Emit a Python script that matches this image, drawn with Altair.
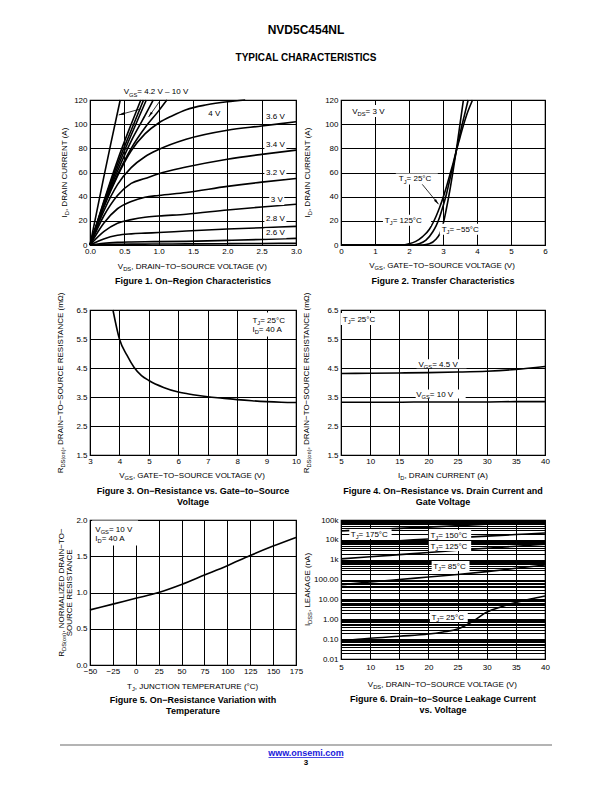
import math
import altair as alt
import pandas as pd

FONT = "Liberation Sans"

# ------------------------------------------------------------------ data
# Figure 1 - On-region characteristics: ID (A) vs VDS (V), one curve per VGS
f1_vds = [0, 0.2, 0.4, 0.6, 0.8, 1.0, 1.4, 2.0, 2.5, 3.0]
f1_id_3v6 = [0, 28, 50, 64, 73, 79, 87.5, 95, 98.5, 102]
f1_id_3v4 = [0, 24, 41, 51, 55, 59, 64.5, 71, 75, 78.5]
f1_id_3v2 = [0, 18, 30, 36, 39.5, 41, 43.5, 48.5, 52, 55]
f1_id_3v0 = [0, 11, 18, 21, 23, 24, 25.5, 29, 31.5, 33.7]
f1_id_2v8 = [0, 5, 8, 9.2, 9.8, 10.3, 11.6, 13.2, 14.3, 15.4]
f1_id_2v6 = [0, 1.5, 2.2, 2.5, 2.7, 2.8, 3.0, 3.8, 4.6, 5.5]
f1_id_2v4 = [0, 0.4, 0.6, 0.7, 0.75, 0.8, 0.9, 1.1, 1.3, 1.5]
f1_vds_4v0 = [0, 0.2, 0.4, 0.6, 0.8, 1.0, 1.2, 1.4, 1.7, 2.0, 2.26]
f1_id_4v0 = [0, 31, 57, 78, 92, 101, 107, 112, 116, 118.5, 120]
f1_vds_4v2 = [0, 0.2, 0.4, 0.6, 0.8, 1.0, 1.12]
f1_id_4v2 = [0, 32, 58, 80, 97, 111, 120]
f1_vds_4v5 = [0, 0.2, 0.4, 0.6, 0.8, 0.92]
f1_id_4v5 = [0, 33, 61, 86, 107, 120]
f1_vds_5v = [0, 0.2, 0.4, 0.6, 0.82]
f1_id_5v = [0, 34, 64, 91, 120]
f1_vds_6v = [0, 0.2, 0.4, 0.6, 0.78]
f1_id_6v = [0, 35, 67, 95, 120]
f1_vds_8v = [0, 0.2, 0.4, 0.6, 0.74]
f1_id_8v = [0, 36, 70, 100, 120]
f1_vds_10v = [0, 0.1, 0.2, 0.3, 0.44]
f1_id_10v = [0, 28, 56, 83, 120]

# Figure 2 - Transfer characteristics: ID (A) vs VGS (V)
f2_vgs_m55 = [0, 2.4, 2.6, 2.8, 2.9, 3.0, 3.1, 3.2, 3.3, 3.4, 3.5, 3.6]
f2_id_m55 = [0, 0, 1, 5, 9, 17, 30, 45, 62, 80, 100, 120]
f2_vgs_25 = [0, 2.1, 2.3, 2.5, 2.7, 2.8, 2.9, 3.0, 3.1, 3.2, 3.3, 3.4, 3.5, 3.6, 3.74]
f2_id_25 = [0, 0, 1, 4, 11, 16, 23, 32, 42, 54, 66, 79, 92, 104, 120]
f2_vgs_125 = [0, 1.8, 2.0, 2.2, 2.4, 2.6, 2.7, 2.8, 2.9, 3.0, 3.1, 3.2, 3.3, 3.4, 3.5, 3.6, 3.7, 3.87]
f2_id_125 = [0, 0, 1, 3, 7, 13, 18, 24, 31, 39, 48, 58, 68, 79, 89, 99, 108, 120]

# Figure 3 - RDS(on) (mOhm) vs VGS (V)
f3_vgs = [3.78, 4.0, 4.25, 4.5, 4.75, 5.0, 5.5, 6.0, 6.5, 7.0, 7.5, 8.0, 8.5, 9.0, 9.5, 10.0]
f3_rds = [6.5, 5.5, 4.95, 4.52, 4.24, 4.07, 3.83, 3.67, 3.58, 3.51, 3.46, 3.41, 3.37, 3.34, 3.32, 3.31]

# Figure 4 - RDS(on) (mOhm) vs ID (A)
f4_id = [5, 10, 15, 20, 25, 30, 35, 40]
f4_rds_4v5 = [4.31, 4.32, 4.33, 4.34, 4.36, 4.39, 4.45, 4.55]
f4_rds_10v = [3.32, 3.32, 3.32, 3.33, 3.33, 3.33, 3.34, 3.34]

# Figure 5 - normalized RDS(on) vs TJ (degC)
f5_tj = [-50, -25, 0, 25, 50, 75, 100, 125, 150, 175]
f5_rn = [0.76, 0.84, 0.92, 1.0, 1.11, 1.24, 1.37, 1.51, 1.64, 1.76]

# Figure 6 - IDSS leakage (nA) vs VDS (V)
f6_vds = [5, 10, 15, 20, 25, 30, 35, 40]
f6_i_175 = [28000, 33000, 38000, 44000, 52000, 62000, 75000, 90000]
f6_i_150 = [6000, 7500, 9000, 11000, 13000, 15500, 18500, 22000]
f6_i_125 = [1100, 1400, 1800, 2300, 3000, 3800, 4800, 6000]
f6_i_85 = [55, 75, 100, 135, 180, 250, 370, 540]
f6_vds_25 = [5, 10, 15, 20, 22.5, 25, 27.5, 30, 32.5, 35, 37.5, 40]
f6_i_25 = [0.08, 0.11, 0.14, 0.18, 0.23, 0.32, 0.75, 2.3, 4.3, 7, 10.5, 15]

# tick values
f1_xt = [0, 0.5, 1.0, 1.5, 2.0, 2.5, 3.0]
f1_yt = [0, 20, 40, 60, 80, 100, 120]
f2_xt = [0, 1, 2, 3, 4, 5, 6]
f3_xt = [3, 4, 5, 6, 7, 8, 9, 10]
r_yt = [1.5, 2.5, 3.5, 4.5, 5.5, 6.5]
f4_xt = [5, 10, 15, 20, 25, 30, 35, 40]
f5_xt = [-50, -25, 0, 25, 50, 75, 100, 125, 150, 175]
f5_yt = [0.0, 0.5, 1.0, 1.5, 2.0]
f6_dec = [0.01, 0.1, 1, 10, 100, 1000, 10000, 100000]
f6_grid = [m * d for d in f6_dec[:-1] for m in range(1, 10)] + [100000]

# ------------------------------------------------------------------ helpers
AW = {' ': 278, '(': 333, ')': 333, ',': 278, '-': 333, '.': 278, '=': 584, '°': 400,
      '−': 584, '–': 556, 'Ω': 768,
      'A': 667, 'B': 667, 'C': 722, 'D': 722, 'E': 667, 'F': 611, 'G': 778, 'H': 722,
      'I': 278, 'J': 500, 'K': 667, 'L': 556, 'M': 833, 'N': 722, 'O': 778, 'P': 667,
      'Q': 778, 'R': 722, 'S': 667, 'T': 611, 'U': 722, 'V': 667, 'W': 944, 'X': 667,
      'Y': 667, 'Z': 611, 'a': 556, 'b': 556, 'c': 500, 'd': 556, 'e': 556, 'f': 278,
      'g': 556, 'h': 556, 'i': 222, 'j': 222, 'k': 500, 'l': 222, 'm': 833, 'n': 556,
      'o': 556, 'p': 556, 'q': 556, 'r': 333, 's': 500, 't': 278, 'u': 556, 'v': 500,
      'w': 722, 'x': 500, 'y': 500, 'z': 500}


def tw(s, size):
    return sum(AW.get(c, 556) for c in s) * size / 1000.0


ONE = pd.DataFrame({"k": [0]})
SUB = 0.72


def axis(values, fmt=None, expr=None, pad=2):
    kw = dict(values=values, title=None, grid=True, gridColor="black", gridWidth=1,
              gridOpacity=1, ticks=False, domain=False, labelFont=FONT, labelFontSize=8,
              labelColor="black", labelPadding=pad, labelOverlap=False, labelFlush=False)
    if fmt:
        kw["format"] = fmt
    if expr:
        kw["labelExpr"] = expr
    return alt.Axis(**kw)


class Panel:
    def __init__(self, w, h, xdom, ydom, xax, yax, ylog=False):
        self.w, self.h = w, h
        self.xdom, self.ydom, self.ylog = xdom, ydom, ylog
        self.xax, self.yax = xax, yax
        self.sx = alt.Scale(domain=xdom, nice=False, zero=False)
        if ylog:
            self.sy = alt.Scale(type="log", domain=ydom, nice=False)
        else:
            self.sy = alt.Scale(domain=ydom, nice=False, zero=False)
        self.layers = []

    def enc(self):
        return dict(x=alt.X("x:Q", scale=self.sx, axis=self.xax),
                    y=alt.Y("y:Q", scale=self.sy, axis=self.yax))

    def pxy(self, x, y):
        px = (x - self.xdom[0]) / (self.xdom[1] - self.xdom[0]) * self.w
        if self.ylog:
            f = (math.log10(y) - math.log10(self.ydom[0])) / (math.log10(self.ydom[1]) - math.log10(self.ydom[0]))
        else:
            f = (y - self.ydom[0]) / (self.ydom[1] - self.ydom[0])
        return px, self.h * (1 - f)

    def add(self, *charts):
        for c in charts:
            if isinstance(c, list):
                self.layers.extend(c)
            else:
                self.layers.append(c)

    def chart(self):
        return alt.layer(*self.layers).properties(width=self.w, height=self.h)


def curves(panel, series):
    rows = []
    for name, xs, ys in series:
        for a, b in zip(xs, ys):
            rows.append({"s": name, "x": a, "y": b})
    df = pd.DataFrame(rows)
    return alt.Chart(df).mark_line(color="black", strokeWidth=1.6, interpolate="monotone").encode(
        detail="s:N", **panel.enc())


def rich(parts, size=8, align="left", angle=0, px=None, data=None, panel=None):
    out = []
    sizes = [size * SUB if sub else size for _, sub in parts]
    total = sum(tw(t, s) for (t, _), s in zip(parts, sizes))
    off = 0.0 if align == "left" else -total / 2.0
    base = 0.35 * size
    for (t, sub), s in zip(parts, sizes):
        dy = base + (0.28 * size if sub else 0.0)
        mk = dict(text=t, font=FONT, fontSize=s, align="left", baseline="alphabetic",
                  dx=round(off, 2), dy=round(dy, 2), color="black")
        if angle:
            mk["angle"] = angle
        if px is not None:
            ch = alt.Chart(ONE).mark_text(**mk).encode(x=alt.value(px[0]), y=alt.value(px[1]))
        else:
            ch = alt.Chart(pd.DataFrame({"x": [data[0]], "y": [data[1]]})).mark_text(**mk).encode(**panel.enc())
        out.append(ch)
        off += tw(t, s)
    return out


def box(panel, cx, cy, w, h):
    r = h / w
    path = f"M-1,{-r:.4f}L1,{-r:.4f}L1,{r:.4f}L-1,{r:.4f}Z"
    return alt.Chart(pd.DataFrame({"x": [cx], "y": [cy]})).mark_point(
        shape=path, size=w * w, filled=True, color="white", opacity=1, strokeWidth=0
    ).encode(**panel.enc())


def arrow(panel, x1, y1, x2, y2):
    df = pd.DataFrame({"x": [x1], "y": [y1], "x2": [x2], "y2": [y2]})
    rule = alt.Chart(df).mark_rule(color="black", strokeWidth=0.8).encode(
        x2="x2:Q", y2="y2:Q", **panel.enc())
    p1, p2 = panel.pxy(x1, y1), panel.pxy(x2, y2)
    ang = math.degrees(math.atan2(p2[0] - p1[0], -(p2[1] - p1[1]))) % 360
    head = alt.Chart(pd.DataFrame({"x": [x2], "y": [y2]})).mark_point(
        shape="M0,0L-0.42,1.9L0.42,1.9Z", size=36, angle=round(ang, 1), filled=True,
        color="black", opacity=1, strokeWidth=0).encode(**panel.enc())
    return [rule, head]


def plain(text, x, y, size=8, weight="normal", align="center", color="black", panel=None, data=False):
    mk = dict(text=text, font=FONT, fontSize=size, fontWeight=weight, align=align,
              baseline="middle", color=color)
    if data:
        return alt.Chart(pd.DataFrame({"x": [x], "y": [y]})).mark_text(**mk).encode(**panel.enc())
    return alt.Chart(ONE).mark_text(**mk).encode(x=alt.value(x), y=alt.value(y))


def caption(panel, lines, y0):
    return [plain(t, panel.w / 2, panel.h + y0 + 11 * i, size=9, weight="bold") for i, t in enumerate(lines)]


def ytitle(panel, parts, xoff):
    return rich(parts, align="center", angle=270, px=(xoff, panel.h / 2))


def xtitle(panel, parts, yoff):
    return rich(parts, align="center", px=(panel.w / 2, panel.h + yoff))


def tj(t):
    return [("T", 0), ("J", 1), (t, 0)]


VDS_T = [("V", 0), ("DS", 1), (", DRAIN−TO−SOURCE VOLTAGE (V)", 0)]
VGS_T = [("V", 0), ("GS", 1), (", GATE−TO−SOURCE VOLTAGE (V)", 0)]
ID_T = [("I", 0), ("D", 1), (", DRAIN CURRENT (A)", 0)]
RDS_T = [("R", 0), ("DS(on)", 1), (", DRAIN−TO−SOURCE RESISTANCE (mΩ)", 0)]

# ------------------------------------------------------------------ Figure 1
p1 = Panel(206, 145, [0, 3], [0, 120], axis(f1_xt, ".1f"), axis(f1_yt, "d", pad=3))
p1.add(curves(p1, [
    ("10V", f1_vds_10v, f1_id_10v), ("8V", f1_vds_8v, f1_id_8v), ("6V", f1_vds_6v, f1_id_6v),
    ("5V", f1_vds_5v, f1_id_5v), ("4.5V", f1_vds_4v5, f1_id_4v5), ("4.2V", f1_vds_4v2, f1_id_4v2),
    ("4V", f1_vds_4v0, f1_id_4v0), ("3.6V", f1_vds, f1_id_3v6), ("3.4V", f1_vds, f1_id_3v4),
    ("3.2V", f1_vds, f1_id_3v2), ("3V", f1_vds, f1_id_3v0), ("2.8V", f1_vds, f1_id_2v8),
    ("2.6V", f1_vds, f1_id_2v6), ("2.4V", f1_vds, f1_id_2v4)]))
for lab, yv, w in [("3.6 V", 106.2, 22), ("3.4 V", 82.8, 22), ("3.2 V", 59.3, 22),
                   ("3 V", 37.2, 15), ("2.8 V", 21.8, 22), ("2.6 V", 9.7, 22)]:
    xv = 2.72 if lab == "3 V" else 2.70
    p1.add(box(p1, xv, yv, w, 10), plain(lab, xv, yv, panel=p1, data=True))
p1.add(plain("4 V", 1.81, 108.2, panel=p1, data=True))
p1.add(rich([("V", 0), ("GS", 1), (" = 4.2 V – 10 V", 0)], data=(0.49, 126.9), panel=p1))
p1.add(arrow(p1, 0.737, 112.6, 0.418, 107.6))
p1.add(arrow(p1, 1.028, 120.0, 0.853, 105.9))
p1.add(ytitle(p1, ID_T, -26), xtitle(p1, VDS_T, 21),
       caption(p1, ["Figure 1. On−Region Characteristics"], 36))
p1.add(plain("NVD5C454NL", 216, -70, size=12, weight="bold"),
       plain("TYPICAL CHARACTERISTICS", 216, -42, size=10, weight="bold"))

# ------------------------------------------------------------------ Figure 2
p2 = Panel(204, 145, [0, 6], [0, 120], axis(f2_xt, "d"), axis(f1_yt, "d", pad=3))
p2.add(curves(p2, [("-55", f2_vgs_m55, f2_id_m55), ("25", f2_vgs_25, f2_id_25),
                   ("125", f2_vgs_125, f2_id_125)]))
p2.add(box(p2, 0.886, 110.9, 44, 12), box(p2, 2.23, 54.6, 42, 11),
       box(p2, 1.94, 20.4, 48, 11), box(p2, 3.58, 13.0, 46, 11))
p2.add(rich([("V", 0), ("DS", 1), (" = 3 V", 0)], data=(0.33, 111.0), panel=p2))
p2.add(rich(tj(" = 25°C"), data=(1.70, 54.9), panel=p2))
p2.add(arrow(p2, 2.39, 50.2, 2.87, 33.7))
p2.add(rich(tj(" = 125°C"), data=(1.29, 20.4), panel=p2))
p2.add(rich(tj(" = −55°C"), data=(2.96, 13.0), panel=p2))
p2.add(ytitle(p2, ID_T, -34), xtitle(p2, VGS_T, 20),
       caption(p2, ["Figure 2. Transfer Characteristics"], 36))

# ------------------------------------------------------------------ Figure 3
p3 = Panel(206, 145, [3, 10], [1.5, 6.5], axis(f3_xt, "d"), axis(r_yt, ".1f", pad=3))
p3.add(curves(p3, [("r", f3_vgs, f3_rds)]))
p3.add(box(p3, 9.08, 6.0, 42, 24))
p3.add(rich(tj(" = 25°C"), data=(8.52, 6.15), panel=p3))
p3.add(rich([("I", 0), ("D", 1), (" = 40 A", 0)], data=(8.52, 5.83), panel=p3))
p3.add(ytitle(p3, RDS_T, -30), xtitle(p3, VGS_T, 20),
       caption(p3, ["Figure 3. On−Resistance vs. Gate−to−Source", "Voltage"], 36))

# ------------------------------------------------------------------ Figure 4
p4 = Panel(204, 145, [5, 40], [1.5, 6.5], axis(f4_xt, "d"), axis(r_yt, ".1f", pad=3))
p4.add(curves(p4, [("4.5", f4_id, f4_rds_4v5), ("10", f4_id, f4_rds_10v)]))
p4.add(box(p4, 8.2, 6.19, 38, 12), box(p4, 22.25, 4.65, 50, 9), box(p4, 22.1, 3.6, 50, 9))
p4.add(rich(tj(" = 25°C"), data=(5.3, 6.19), panel=p4))
p4.add(rich([("V", 0), ("GS", 1), (" = 4.5 V", 0)], data=(18.3, 4.63), panel=p4))
p4.add(rich([("V", 0), ("GS", 1), (" = 10 V", 0)], data=(17.9, 3.6), panel=p4))
p4.add(ytitle(p4, RDS_T, -35), xtitle(p4, ID_T, 20),
       caption(p4, ["Figure 4. On−Resistance vs. Drain Current and", "Gate Voltage"], 36))

# ------------------------------------------------------------------ Figure 5
p5 = Panel(206, 145, [-50, 175], [0, 2], axis(f5_xt, "d"), axis(f5_yt, ".1f", pad=3))
p5.add(curves(p5, [("r", f5_tj, f5_rn)]))
p5.add(box(p5, -22.6, 1.82, 46, 25))
p5.add(rich([("V", 0), ("GS", 1), (" = 10 V", 0)], data=(-44.2, 1.88), panel=p5))
p5.add(rich([("I", 0), ("D", 1), (" = 40 A", 0)], data=(-44.2, 1.75), panel=p5))
p5.add(rich([("R", 0), ("DS(on)", 1), (", NORMALIZED DRAIN−TO−", 0)], align="center", angle=270,
            px=(-29, p5.h / 2)))
p5.add(rich([("SOURCE RESISTANCE", 0)], align="center", angle=270, px=(-21, p5.h / 2)))
p5.add(xtitle(p5, tj(", JUNCTION TEMPERATURE (°C)"), 21),
       caption(p5, ["Figure 5. On−Resistance Variation with", "Temperature"], 35))
# page footer
p5.add(alt.Chart(ONE).mark_rule(color="#b4b4b4", strokeWidth=2).encode(
    x=alt.value(-30), x2=alt.value(462), y=alt.value(225)))
p5.add(plain("www.onsemi.com", 216, 233, size=9, weight="bold", color="#1a1adb"))
p5.add(alt.Chart(ONE).mark_rule(color="#1a1adb", strokeWidth=0.8).encode(
    x=alt.value(178.5), x2=alt.value(253.5), y=alt.value(237.5)))
p5.add(plain("3", 216, 242.5, size=8, weight="bold"))

# ------------------------------------------------------------------ Figure 6
expr6 = ("indexof([0.01,0.1,1,10,100,1000,10000,100000], datum.value) < 0 ? '' : "
         "(datum.value >= 1000 ? format(datum.value / 1000, 'd') + 'k' : format(datum.value, '.2f'))")
p6 = Panel(204, 139, [5, 40], [0.01, 100000], axis(f4_xt, "d", pad=4),
           axis(f6_grid, expr=expr6, pad=3), ylog=True)
lbl6 = [(" = 175°C", 10.05, 19700), (" = 150°C", 23.7, 17600), (" = 125°C", 23.7, 4900),
        (" = 85°C", 23.8, 478), (" = 25°C", 23.5, 1.3)]
p6.add(curves(p6, [("175", f6_vds, f6_i_175), ("150", f6_vds, f6_i_150), ("125", f6_vds, f6_i_125),
                   ("85", f6_vds, f6_i_85), ("25", f6_vds_25, f6_i_25)]))
for t, xv, yv in lbl6:
    p6.add(box(p6, xv, yv, tw("T" + t, 8) + 6, 10))
for t, xv, yv in lbl6:
    p6.add(rich(tj(t), align="center", data=(xv, yv), panel=p6))
p6.add(ytitle(p6, [("I", 0), ("DSS", 1), (", LEAKAGE (nA)", 0)], -34), xtitle(p6, VDS_T, 25),
       caption(p6, ["Figure 6. Drain−to−Source Leakage Current", "vs. Voltage"], 40))

# ------------------------------------------------------------------ layout
chart = alt.concat(
    p1.chart(), p2.chart(), p3.chart(), p4.chart(), p5.chart(), p6.chart(),
    columns=2, spacing={"row": 65, "column": 45}, bounds="flush",
).properties(
    padding={"left": 48, "top": 15, "right": 5, "bottom": 5}
).configure_view(stroke="black", strokeWidth=1.2)

chart.save("out.html", embed_options={"renderer": "svg", "actions": False})
